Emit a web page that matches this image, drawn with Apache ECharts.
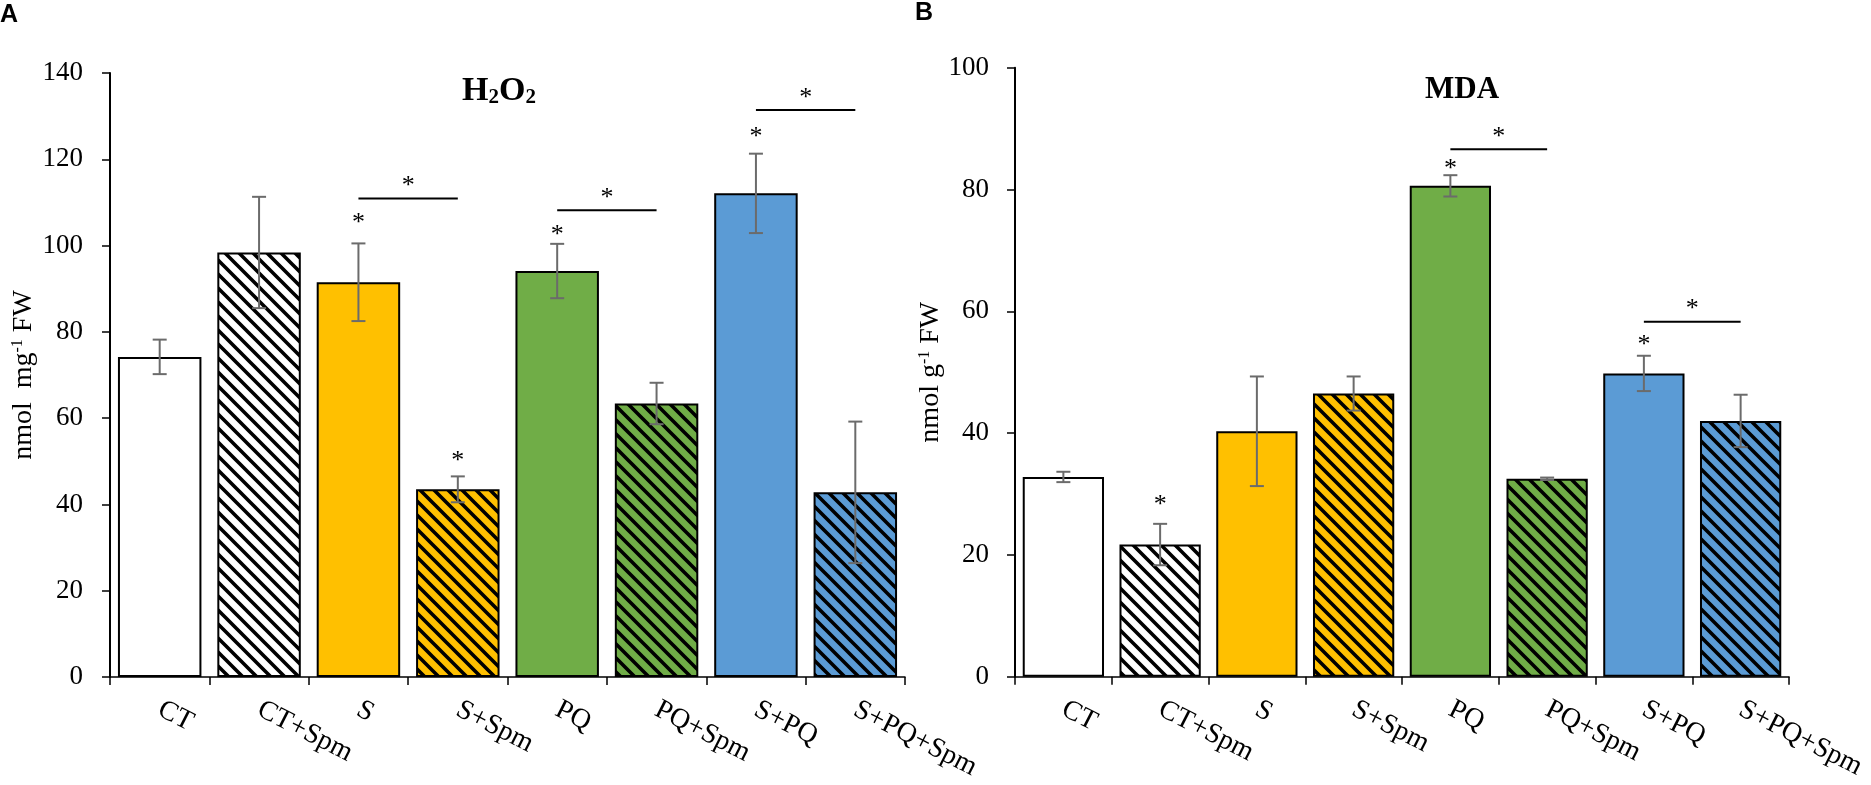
<!DOCTYPE html>
<html>
<head>
<meta charset="utf-8">
<title>H2O2 / MDA</title>
<script src="https://cdn.jsdelivr.net/npm/echarts@6/dist/echarts.min.js"></script>
<style>
html,body{margin:0;padding:0;background:#fff;}
#chart{width:1871px;height:785px;}
</style>
</head>
<body>
<div id="chart"></div>
<script>
// 数据
var categories = ['CT', 'CT+Spm', 'S', 'S+Spm', 'PQ', 'PQ+Spm', 'S+PQ', 'S+PQ+Spm'];

var h2o2Values = [74.2, 98.4, 91.5, 43.5, 94.1, 63.4, 112.1, 42.8];
var h2o2Errors = [4.0, 12.9, 9.0, 3.0, 6.3, 4.8, 9.2, 16.4];
// 星号所在高度（无星号为 null）
var h2o2StarY = [null, null, 105.9, 50.8, 103.2, null, 125.9, null];
// 组间比较线：[起始组, 结束组, 高度]
var h2o2Brackets = [[2, 3, 110.9], [4, 5, 108.2], [6, 7, 131.4]];

var mdaValues = [32.8, 21.7, 40.3, 46.5, 80.6, 32.5, 49.8, 42.0];
var mdaErrors = [0.85, 3.4, 9.0, 2.8, 1.75, 0.2, 2.9, 4.3];
var mdaStarY = [null, 28.6, null, null, 83.8, null, 54.9, null];
var mdaBrackets = [[4, 5, 86.6], [6, 7, 58.3]];

// 样式
var barColors = ['#FFFFFF', '#FFFFFF', '#FFC000', '#FFC000', '#70AD47', '#70AD47', '#5B9BD5', '#5B9BD5'];
var hatched = [false, true, false, true, false, true, false, true];
var serif = '"Liberation Serif", "Times New Roman", serif';
var errColor = '#6b6b6b';

// 斜线填充
function makeHatch(bg) {
	var s = 14;
	var c = document.createElement('canvas');
	c.width = s; c.height = s;
	var g = c.getContext('2d');
	g.fillStyle = bg;
	g.fillRect(0, 0, s, s);
	g.strokeStyle = '#000';
	g.lineWidth = 3.6;
	g.beginPath();
	g.moveTo(-2, -2); g.lineTo(s + 2, s + 2);
	g.moveTo(s - 3, -3); g.lineTo(s + 3, 3);
	g.moveTo(-3, s - 3); g.lineTo(3, s + 3);
	g.stroke();
	return c;
}

function barData(values) {
	var out = [];
	for (var i = 0; i < values.length; i++) {
		var fill = hatched[i] ? { image: makeHatch(barColors[i]), repeat: 'repeat' } : barColors[i];
		out.push({ value: values[i], itemStyle: { color: fill } });
	}
	return out;
}

function errorSeries(idx, values, errors) {
	var data = [];
	for (var i = 0; i < values.length; i++) {
		data.push([i, values[i] - errors[i], values[i] + errors[i]]);
	}
	return {
		type: 'custom', xAxisIndex: idx, yAxisIndex: idx, z: 10,
		encode: { x: 0, y: [1, 2] },
		data: data,
		renderItem: function (params, api) {
			var lo = api.coord([api.value(0), api.value(1)]);
			var hi = api.coord([api.value(0), api.value(2)]);
			var w = 7;
			var st = { stroke: errColor, lineWidth: 2 };
			return {
				type: 'group', children: [
					{ type: 'line', shape: { x1: hi[0], y1: hi[1], x2: lo[0], y2: lo[1] }, style: st },
					{ type: 'line', shape: { x1: hi[0] - w, y1: hi[1], x2: hi[0] + w, y2: hi[1] }, style: st },
					{ type: 'line', shape: { x1: lo[0] - w, y1: lo[1], x2: lo[0] + w, y2: lo[1] }, style: st }
				]
			};
		}
	};
}

function starSeries(idx, starY) {
	var data = [];
	for (var i = 0; i < starY.length; i++) {
		if (starY[i] != null) data.push([i, starY[i]]);
	}
	return {
		type: 'custom', xAxisIndex: idx, yAxisIndex: idx, z: 11,
		data: data,
		renderItem: function (params, api) {
			var p = api.coord([api.value(0), api.value(1)]);
			return {
				type: 'text', x: p[0], y: p[1] + 3,
				style: { text: '*', font: '26px ' + serif, fill: '#000', align: 'center', verticalAlign: 'middle' }
			};
		}
	};
}

function bracketSeries(idx, brackets) {
	return {
		type: 'custom', xAxisIndex: idx, yAxisIndex: idx, z: 11,
		encode: { x: [0, 1], y: 2 },
		data: brackets,
		renderItem: function (params, api) {
			var a = api.coord([api.value(0), api.value(2)]);
			var b = api.coord([api.value(1), api.value(2)]);
			return {
				type: 'group', children: [
					{ type: 'line', shape: { x1: a[0], y1: a[1], x2: b[0], y2: b[1] }, style: { stroke: '#000', lineWidth: 2 } },
					{ type: 'text', x: (a[0] + b[0]) / 2, y: a[1] - 12,
						style: { text: '*', font: '26px ' + serif, fill: '#000', align: 'center', verticalAlign: 'middle' } }
				]
			};
		}
	};
}

function xAxisOpt(idx) {
	return {
		type: 'category', gridIndex: idx, data: categories,
		axisLine: { lineStyle: { color: '#000', width: 1.5 } },
		axisTick: { show: true, length: 8, lineStyle: { color: '#000', width: 1.5 } },
		axisLabel: { rotate: -27, margin: 31, interval: 0, fontFamily: serif, fontSize: 28, color: '#000' }
	};
}

function yAxisOpt(idx, max, name, gap, margin) {
	return {
		type: 'value', gridIndex: idx, min: 0, max: max, interval: 20,
		name: name, nameLocation: 'middle', nameGap: gap,
		nameTextStyle: {
			fontFamily: serif, fontSize: 28, color: '#000',
			rich: { sup: { fontFamily: serif, fontSize: 16, color: '#000', verticalAlign: 'top', lineHeight: 12 } }
		},
		axisLine: { show: true, lineStyle: { color: '#000', width: 2 } },
		axisTick: { show: true, length: 8, lineStyle: { color: '#000', width: 1.5 } },
		splitLine: { show: false },
		axisLabel: { margin: margin, fontFamily: serif, fontSize: 27, color: '#000' }
	};
}

var myChart = echarts.init(document.getElementById('chart'));
var option = {
	backgroundColor: '#fff',
	animation: false,
	title: [{
		text: 'H{s|2}O{s|2}', left: 457, top: 69,
		textStyle: {
			fontFamily: serif, fontWeight: 'bold', fontSize: 34, color: '#000',
			rich: { s: { fontFamily: serif, fontWeight: 'bold', fontSize: 21, color: '#000', verticalAlign: 'bottom', lineHeight: 14 } }
		}
	}, {
		text: 'MDA', left: 1420, top: 69,
		textStyle: { fontFamily: serif, fontWeight: 'bold', fontSize: 31, color: '#000' }
	}],
	graphic: [
		{ type: 'text', left: 0, top: 3, style: { text: 'A', font: 'bold 25px "Liberation Sans", Arial, sans-serif', fill: '#000' } },
		{ type: 'text', left: 915, top: 1, style: { text: 'B', font: 'bold 25px "Liberation Sans", Arial, sans-serif', fill: '#000' } }
	],
	grid: [
		{ left: 110, top: 73, width: 795, height: 604, outerBoundsMode: 'none' },
		{ left: 1015, top: 67.7, width: 774, height: 609, outerBoundsMode: 'none' }
	],
	xAxis: [xAxisOpt(0), xAxisOpt(1)],
	yAxis: [
		yAxisOpt(0, 140, 'nmol  mg{sup|-1} FW', 72, 27),
		yAxisOpt(1, 100, 'nmol g{sup|-1} FW', 68, 26)
	],
	series: [
		{
			type: 'bar', xAxisIndex: 0, yAxisIndex: 0, barWidth: '84%',
			itemStyle: { borderColor: '#000', borderWidth: 2 },
			data: barData(h2o2Values)
		},
		{
			type: 'bar', xAxisIndex: 1, yAxisIndex: 1, barWidth: '84%',
			itemStyle: { borderColor: '#000', borderWidth: 2 },
			data: barData(mdaValues)
		},
		errorSeries(0, h2o2Values, h2o2Errors),
		errorSeries(1, mdaValues, mdaErrors),
		starSeries(0, h2o2StarY),
		starSeries(1, mdaStarY),
		bracketSeries(0, h2o2Brackets),
		bracketSeries(1, mdaBrackets)
	]
};
myChart.setOption(option);
</script>
</body>
</html>
